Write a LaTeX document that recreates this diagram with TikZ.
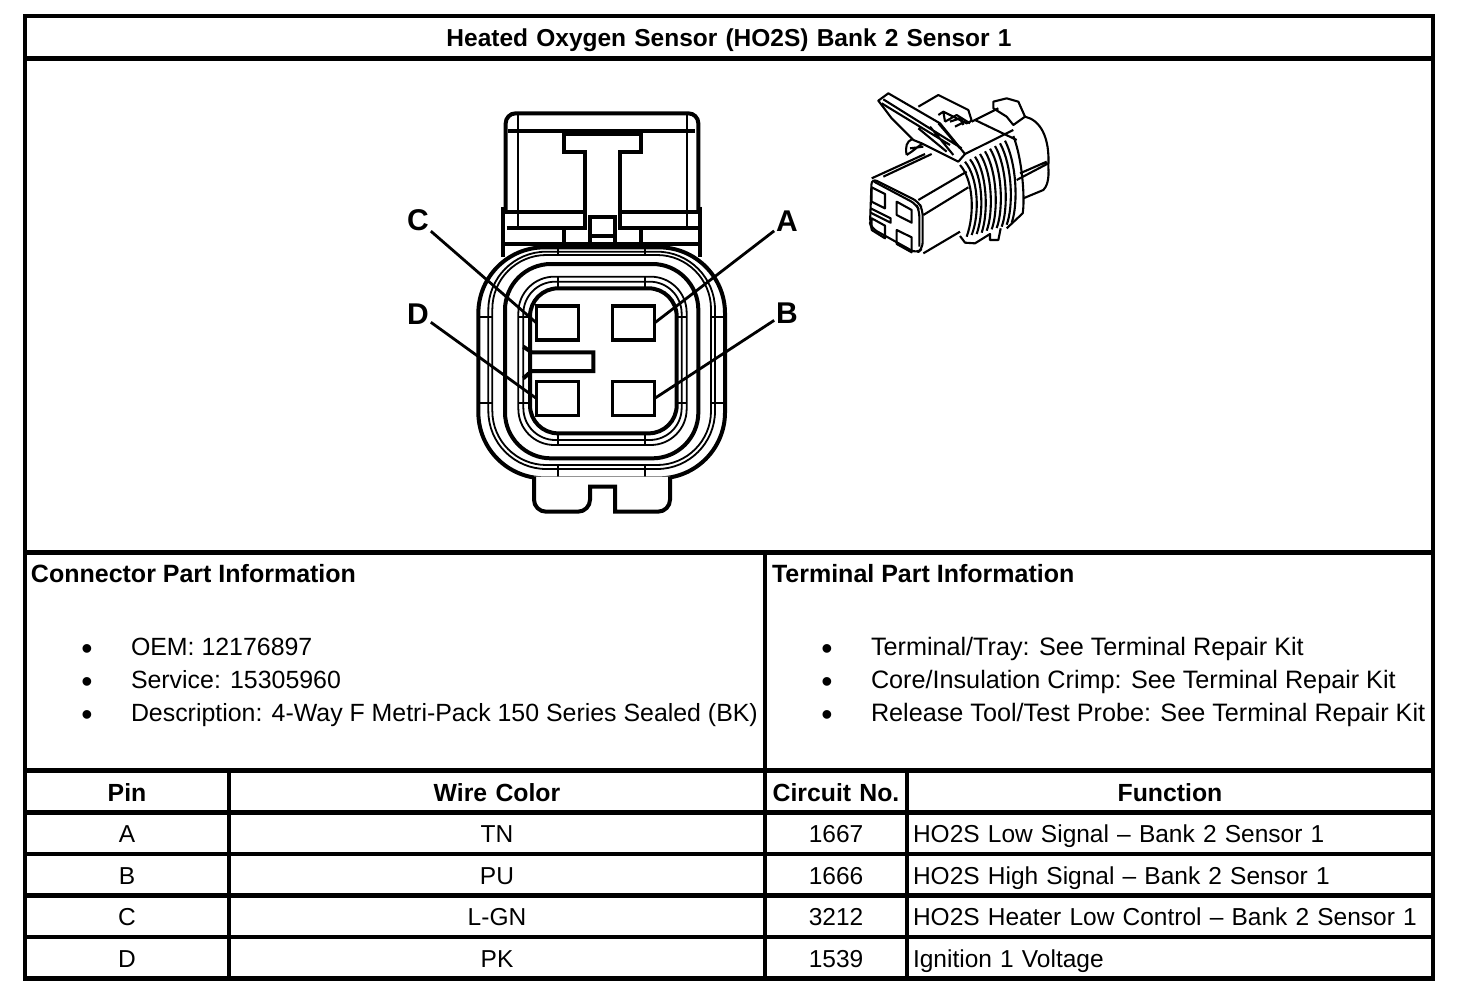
\documentclass[tikz,border=0pt]{standalone}
\usepackage{fontspec}
\setmainfont{Liberation Sans}
\usepackage{xcolor}
\usepackage{tikz}
\usetikzlibrary{positioning}

\tikzset{
	cell/.style={draw,line width=2.25pt,inner sep=2pt,outer sep=0pt,text height=10.5pt,text depth=1pt,minimum height=20.75pt,font=\fontsize{12.25}{14}\selectfont},
	headcell/.style={cell,minimum height=21pt,font=\fontsize{12.4}{14}\selectfont\bfseries},
	pincol/.style={minimum width=102pt,text width=98pt,align=center},
	wirecol/.style={minimum width=268pt,text width=264pt,align=center},
	circcol/.style={minimum width=71pt,text width=67pt,align=center},
	funccol/.style={minimum width=263pt,inner xsep=3pt,text width=257pt,align=left},
	panel/.style={draw,line width=2.25pt,outer sep=0pt},
	plain/.style={inner sep=0pt,outer sep=0pt,anchor=base west,font=\fontsize{12.45}{14}\selectfont},
	plainwide/.style={plain,font=\fontsize{12.6}{14}\selectfont},
	parthead/.style={plain,font=\fontsize{12.5}{14}\selectfont\bfseries},
	dotmark/.style={plain,font=\fontsize{16}{16}\selectfont},
	pinbox/.style={draw,line width=1.7pt,minimum width=21pt,minimum height=17pt,inner sep=0pt,outer sep=0pt},
	pinlabel/.style={inner sep=1pt,outer sep=0pt,text height=11pt,text depth=0pt,font=\fontsize{15}{15}\selectfont\bfseries},
	leader/.style={line width=1.4pt},
	heavy/.style={line width=2pt},
	light/.style={line width=0.9pt},
	sketch/.style={line width=1.05pt,line join=round}
}

\begin{document}
\begin{tikzpicture}[x=0.5pt,y=-0.5pt]
	\useasboundingbox (0,0) rectangle (1472,1000);

	% Title row and the big drawing panel
	\node[headcell,minimum width=704pt,minimum height=21.25pt,text width=700pt,align=center,anchor=north west,font=\fontsize{12.25}{14}\selectfont\bfseries] (title) at (25,16) {Heated Oxygen Sensor (HO2S) Bank 2 Sensor 1};
	\node[panel,minimum width=704pt,minimum height=247pt] (drawing) [below right=0pt and 0pt of title.south west] {};

	% Part information panels
	\node[panel,minimum width=370pt,minimum height=109pt] (connpanel) [below right=0pt and 0pt of drawing.south west] {};
	\node[panel,minimum width=334pt,minimum height=109pt] (termpanel) [right=0pt of connpanel] {};

	% Texts of the panels
	\node[parthead] (connhead) at (31,582) {Connector Part Information};
	\node[dotmark] (connb1) at (81.4,659) {•};
	\node[dotmark] (connb2) at (81.4,692) {•};
	\node[dotmark] (connb3) at (81.4,725) {•};
	\node[plain] (oem) at (131,655) {OEM: 12176897};
	\node[plain] (service) at (131,688) {Service: 15305960};
	\node[plain] (descr) at (131,721) {Description: 4-Way F Metri-Pack 150 Series Sealed (BK)};

	\node[parthead] (termhead) at (772,582) {Terminal Part Information};
	\node[dotmark] (termb1) at (821.4,659) {•};
	\node[dotmark] (termb2) at (821.4,692) {•};
	\node[dotmark] (termb3) at (821.4,725) {•};
	\node[plainwide] (tray) at (871,655) {Terminal/Tray: See Terminal Repair Kit};
	\node[plainwide] (crimp) at (871,688) {Core/Insulation Crimp: See Terminal Repair Kit};
	\node[plainwide] (probe) at (871,721) {Release Tool/Test Probe: See Terminal Repair Kit};

	% Now the table head
	\node[headcell,pincol] (headpin) [below right=0pt and 0pt of connpanel.south west] {Pin};
	\node[headcell,wirecol] (headwire) [right=0pt of headpin] {Wire Color};
	\node[headcell,circcol] (headcirc) [right=0pt of headwire] {Circuit No.};
	\node[headcell,minimum width=263pt,text width=259pt,align=center] (headfunc) [right=0pt of headcirc] {Function};

	% Row A
	\node[cell,pincol] (pinrowa) [below=0pt of headpin] {A};
	\node[cell,wirecol] (wirerowa) [right=0pt of pinrowa] {TN};
	\node[cell,circcol] (circrowa) [right=0pt of wirerowa] {1667};
	\node[cell,funccol] (funcrowa) [right=0pt of circrowa] {HO2S Low Signal – Bank 2 Sensor 1};

	% Row B
	\node[cell,pincol] (pinrowb) [below=0pt of pinrowa] {B};
	\node[cell,wirecol] (wirerowb) [right=0pt of pinrowb] {PU};
	\node[cell,circcol] (circrowb) [right=0pt of wirerowb] {1666};
	\node[cell,funccol] (funcrowb) [right=0pt of circrowb] {HO2S High Signal – Bank 2 Sensor 1};

	% Row C
	\node[cell,pincol] (pinrowc) [below=0pt of pinrowb] {C};
	\node[cell,wirecol] (wirerowc) [right=0pt of pinrowc] {L-GN};
	\node[cell,circcol] (circrowc) [right=0pt of wirerowc] {3212};
	\node[cell,funccol] (funcrowc) [right=0pt of circrowc] {HO2S Heater Low Control – Bank 2 Sensor 1};

	% Row D
	\node[cell,pincol] (pinrowd) [below=0pt of pinrowc] {D};
	\node[cell,wirecol] (wirerowd) [right=0pt of pinrowd] {PK};
	\node[cell,circcol] (circrowd) [right=0pt of wirerowd] {1539};
	\node[cell,funccol] (funcrowd) [right=0pt of circrowd] {Ignition 1 Voltage};

	% Front view of the connector
	\begin{scope}[shift={(390,100)},x=0.16667pt,y=-0.16667pt]
		% Latch on top
		\draw[heavy,rounded corners=5pt] (347,330) -- (347,40) -- (925,40) -- (925,330);
		\draw[light] (385,45) -- (385,385) (890,45) -- (890,385);
		\draw[heavy] (355,92) -- (915,92);
		\draw[heavy] (350,385) -- (585,385) -- (585,155) -- (522,155) -- (522,102) -- (752,102) -- (752,155) -- (690,155) -- (690,385) -- (925,385);
		\draw[heavy] (340,335) -- (585,335) (690,335) -- (930,335);
		\draw[heavy] (600,435) -- (600,350) -- (675,350) -- (675,435);
		\draw[heavy] (600,408) -- (675,408);
		\draw[heavy] (340,320) -- (340,470) (930,320) -- (930,470);
		\draw[heavy] (340,432) -- (930,432);
		\draw[heavy] (522,390) -- (522,432) (752,390) -- (752,432);
		% Concentric seals
		\draw[heavy,rounded corners=33pt] (265,442) rectangle (1005,1135);
		\draw[light,rounded corners=29pt] (295,455) rectangle (975,1107);
		\draw[light,rounded corners=27pt] (307,465) rectangle (963,1095);
		\draw[heavy,rounded corners=23pt] (345,492) rectangle (925,1075);
		\draw[light,rounded corners=18pt] (385,530) rectangle (890,1035);
		\draw[light,rounded corners=16pt] (400,545) rectangle (875,1020);
		\draw[heavy,rounded corners=14pt] (420,565) rectangle (860,1000);
		\draw[light] (505,442) -- (505,465) (765,442) -- (765,465) (505,530) -- (505,565) (765,530) -- (765,565) (505,1000) -- (505,1035) (765,1000) -- (765,1035) (505,1095) -- (505,1135) (765,1095) -- (765,1135) (265,650) -- (307,650) (265,910) -- (307,910) (963,650) -- (1005,650) (963,910) -- (1005,910) (385,650) -- (420,650) (385,910) -- (420,910) (860,650) -- (890,650) (860,910) -- (890,910);
		% Tab at the bottom
		\draw[heavy,fill=white,rounded corners=6pt] (432,1130) -- (432,1235) -- (600,1235) [sharp corners] -- (600,1160) -- (675,1160) -- (675,1235) [rounded corners=6pt] -- (840,1235) -- (840,1130);
		% Key of the housing
		\draw[heavy] (400,740) -- (425,757) -- (610,757) -- (610,813) -- (425,813) -- (400,835);
	\end{scope}

	% Now place the four terminals (ID=pinX) and their letters (ID=labelX)
	\node[pinbox] (pinC) at (557.5,323) {};
	\node[pinbox] (pinA) at (633.5,323) {};
	\node[pinbox] (pinD) at (557.5,398.5) {};
	\node[pinbox] (pinB) at (633.5,398.5) {};
	\node[pinlabel] (labelC) at (418,220) {C};
	\node[pinlabel] (labelA) at (787,221) {A};
	\node[pinlabel] (labelD) at (418,313) {D};
	\node[pinlabel] (labelB) at (787,312) {B};

	% Draw an edge from each letter to its terminal
	\draw[leader] (labelC) -- (pinC.west);
	\draw[leader] (labelA) -- (pinA.east);
	\draw[leader] (labelD) -- (pinD.west);
	\draw[leader] (labelB) -- (pinB.east);

	% Small view of the connector
	\begin{scope}[shift={(850,80)},x=0.16667pt,y=-0.16667pt,sketch]
		% Front face and pockets
		\draw[rounded corners=3pt] (65,295) -- (205,365) -- (218,390) -- (218,505) -- (200,520) -- (65,445) -- (60,430) -- cycle;
		\draw[rounded corners=3pt] (72,305) -- (198,372) -- (208,392) -- (208,500);
		\draw (65,322) -- (105,342) -- (105,385) -- (65,365) -- cycle;
		\draw (140,365) -- (185,390) -- (185,428) -- (140,405) -- cycle;
		\draw (65,415) -- (105,437) -- (105,475) -- (65,450) -- cycle;
		\draw (140,450) -- (185,472) -- (185,517) -- (140,492) -- cycle;
		\draw (62,385) -- (122,415) -- (122,428) -- (62,398);
		% Body
		\draw (65,295) -- (225,222) (100,290) -- (245,222) (205,360) -- (350,275);
		\draw (220,405) -- (355,322) (220,520) -- (330,455);
		\draw (330,468) -- (345,488) -- (375,490) -- (420,462) -- (420,480) -- (445,480) -- (452,445);
		% Latch
		\draw (85,62) -- (115,40) -- (270,130) -- (345,222) -- (325,245) -- (215,190) -- (190,180) -- (125,115) -- cycle;
		\draw (100,58) -- (335,205) (95,70) -- (300,195) (205,145) -- (290,215) (240,140) -- (310,225) (265,130) -- (330,205);
		\draw (170,225) .. controls (165,200) and (170,185) .. (185,178) (170,225) -- (185,215) -- (215,192) (180,205) -- (220,200);
		\draw (205,80) -- (265,45) -- (355,90) -- (365,122) -- (350,130) -- (280,95) -- (265,105) (280,95) -- (285,125);
		\draw (285,125) -- (320,105) -- (360,130) (300,125) -- (330,115) -- (340,135) (315,140) -- (345,125);
		\draw (365,125) -- (445,85) (345,222) -- (490,150) (375,120) -- (500,180);
		\draw (430,65) -- (470,55) -- (505,65) -- (525,110) -- (490,135) -- (470,110) -- (430,85) -- cycle;
		% Rear of the housing
		\draw (525,110) .. controls (570,120) and (600,170) .. (595,260) .. controls (598,300) and (590,320) .. (580,330) -- (520,355);
		\draw (500,300) -- (595,250) (510,280) -- (590,245);
		% Sealing ribs
		\draw (330,255) .. controls (370,300) and (375,400) .. (350,470);
		\draw (345,245) .. controls (385,295) and (390,400) .. (365,465);
		\draw (360,238) .. controls (400,290) and (402,400) .. (380,462);
		\draw (375,230) .. controls (412,285) and (415,400) .. (395,458);
		\draw (390,222) .. controls (428,280) and (430,400) .. (410,452);
		\draw (405,214) .. controls (442,275) and (445,395) .. (425,448);
		\draw (420,206) .. controls (458,268) and (460,392) .. (440,444);
		\draw (435,198) .. controls (472,262) and (475,388) .. (455,440);
		\draw (450,190) .. controls (488,258) and (490,382) .. (470,434);
		\draw (465,182) .. controls (500,250) and (505,372) .. (485,428);
		\draw (490,168) .. controls (518,240) and (525,360) .. (518,400) -- (470,445);
	\end{scope}
\end{tikzpicture}
\end{document}
